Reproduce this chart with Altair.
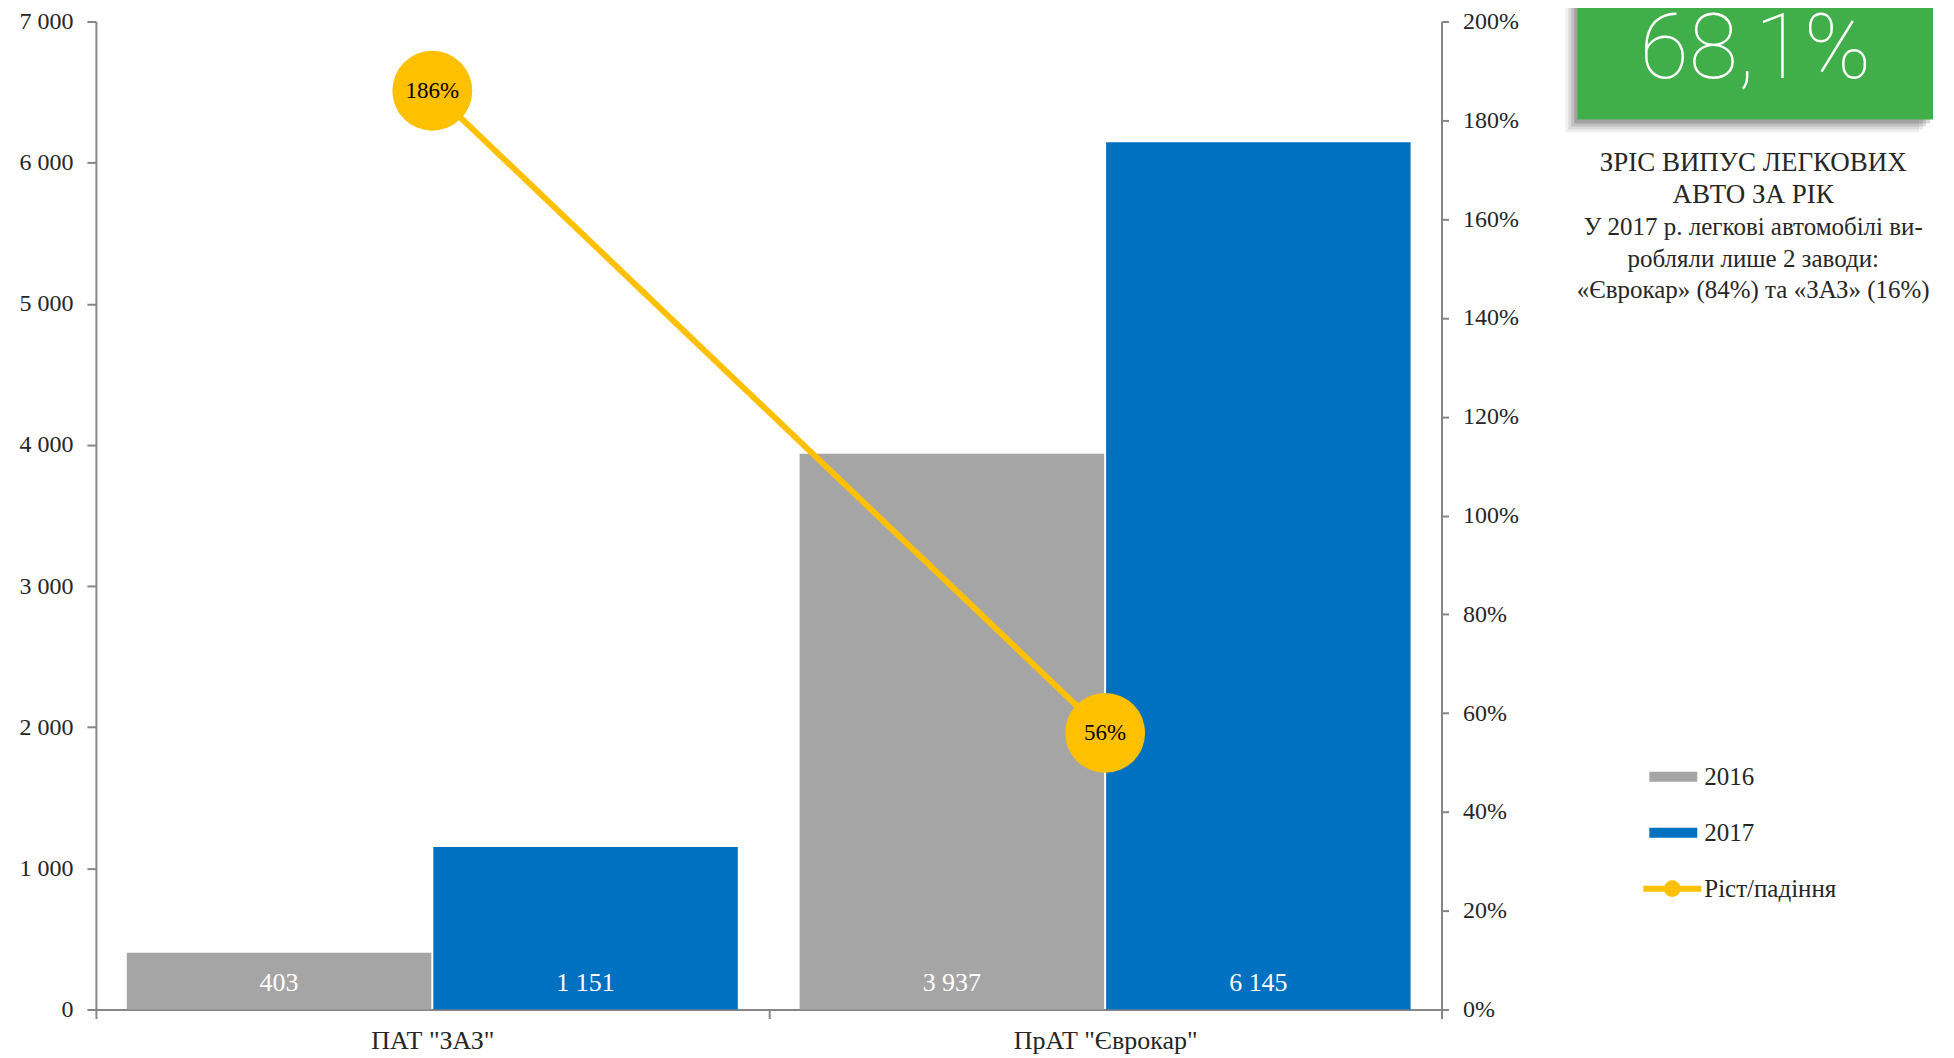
import altair as alt
import pandas as pd

# ---------------- data ----------------
companies = ['ПАТ "ЗАЗ"', 'ПрАТ "Єврокар"']
years = ["2016", "2017"]
output_2016 = [403, 3937]
output_2017 = [1151, 6145]
growth_pct = [186, 56]
growth_name = "Ріст/падіння"

series_domain = years + [growth_name]
series_colors = ["#A5A5A5", "#0070C0", "#FFC000"]

SERIF = "Liberation Serif"
TEXT = "#262626"
AXIS_GREY = "#868686"


def fmt_thousands(v):
    return f"{v:,}".replace(",", " ")


rows = []
for c, a, b in zip(companies, output_2016, output_2017):
    rows.append({"company": c, "year": years[0], "series": years[0], "value": a, "label": fmt_thousands(a)})
    rows.append({"company": c, "year": years[1], "series": years[1], "value": b, "label": fmt_thousands(b)})
bars_df = pd.DataFrame(rows)

growth_df = pd.DataFrame({
    "company": companies,
    "growth": growth_pct,
    "series": [growth_name] * len(companies),
    "label": [f"{g}%" for g in growth_pct],
})

legend_df = pd.DataFrame({"series": series_domain})

total16 = sum(output_2016)
total17 = sum(output_2017)
headline = f"{(total17 / total16 - 1) * 100:.1f}".replace(".", ",") + "%"
share_evro = round(output_2017[1] / total17 * 100)
share_zaz = round(output_2017[0] / total17 * 100)
title_lines = ["ЗРІС ВИПУС ЛЕГКОВИХ", "АВТО ЗА РІК"]
body_lines = [
    "У 2017 р. легкові автомобілі ви-",
    "робляли лише 2 заводи:",
    f"«Єврокар» ({share_evro}%) та «ЗАЗ» ({share_zaz}%)",
]

# ---------------- layout ----------------
W, H = 1347, 989

color_scale = alt.Scale(domain=series_domain, range=series_colors)
color_enc = alt.Color("series:N", scale=color_scale, legend=None)

x_enc = alt.X(
    "company:N",
    sort=companies,
    scale=alt.Scale(domain=companies, paddingInner=0, paddingOuter=0),
    axis=alt.Axis(title=None, labelAngle=0, tickBand="extent", tickSize=9,
                  labelPadding=9, labelFontSize=26, labelLimit=0),
)
xoff = alt.XOffset("year:N", scale=alt.Scale(domain=years, paddingInner=0.0065, paddingOuter=0.1008))

left_axis = alt.Axis(orient="left", title=None, values=list(range(0, 7001, 1000)),
                     labelExpr="replace(format(datum.value, ','), ',', ' ')",
                     tickSize=9, labelPadding=14)
right_axis = alt.Axis(orient="right", title=None, values=list(range(0, 201, 20)),
                      labelExpr="datum.value + '%'", tickSize=7, labelPadding=14)

bars = alt.Chart(bars_df).mark_bar().encode(
    x=x_enc,
    xOffset=xoff,
    y=alt.Y("value:Q", scale=alt.Scale(domain=[0, 7000], nice=False), axis=left_axis),
    color=color_enc,
)
bar_labels = alt.Chart(bars_df).mark_text(
    dy=-27, baseline="middle", align="center", color="white", fontSize=26, font=SERIF
).encode(x=x_enc, xOffset=xoff, y=alt.datum(0), text="label:N")

left = alt.layer(bars, bar_labels)

y_right = alt.Y("growth:Q", scale=alt.Scale(domain=[0, 200], nice=False), axis=right_axis)
line = alt.Chart(growth_df).mark_line(strokeWidth=6).encode(x=x_enc, y=y_right, color=color_enc)
points = alt.Chart(growth_df).mark_circle(size=6400, opacity=1).encode(x=x_enc, y=y_right, color=color_enc)
point_labels = alt.Chart(growth_df).mark_text(
    fontSize=23, font=SERIF, color="#000000", baseline="middle", align="center"
).encode(x=x_enc, y=y_right, text="label:N")

right = alt.layer(line, points, point_labels)

# ---------------- legend (drawn as marks) ----------------
leg_y = alt.Y("series:N", scale=alt.Scale(type="point", domain=series_domain, range=[756, 868], padding=0),
              axis=None)
leg_bars = alt.Chart(legend_df).transform_filter(
    alt.FieldOneOfPredicate(field="series", oneOf=years)
).mark_rule(strokeWidth=10).encode(x=alt.value(1555), x2=alt.value(1603), y=leg_y, color=color_enc)
leg_line = alt.Chart(legend_df).transform_filter(
    alt.FieldEqualPredicate(field="series", equal=growth_name)
).mark_rule(strokeWidth=6).encode(x=alt.value(1549), x2=alt.value(1607), y=leg_y, color=color_enc)
leg_dot = alt.Chart(legend_df).transform_filter(
    alt.FieldEqualPredicate(field="series", equal=growth_name)
).mark_circle(size=280, opacity=1).encode(x=alt.value(1578), y=leg_y, color=color_enc)
leg_text = alt.Chart(legend_df).mark_text(
    align="left", baseline="middle", font=SERIF, fontSize=25, color=TEXT
).encode(x=alt.value(1610), y=leg_y, text="series:N")
legend_layer = alt.layer(leg_bars, leg_line, leg_dot, leg_text)

# ---------------- annotation block (right side) ----------------
one = pd.DataFrame({"k": [0]})
bx0, bx1, by0, by1 = 1483, 1839, -21, 98
shadows = []
for dx0, dx1, dy, op in [(-12, -14, 13, 0.06), (-9, -10, 10, 0.09), (-6, -7, 7, 0.12), (-3, -3, 4, 0.15)]:
    shadows.append(
        alt.Chart(one).mark_rect(color="black", opacity=op).encode(
            x=alt.value(bx0 + dx0), x2=alt.value(bx1 + dx1), y=alt.value(by0), y2=alt.value(by1 + dy))
    )
green = alt.Chart(one).mark_rect(color="#40AE49").encode(
    x=alt.value(bx0), x2=alt.value(bx1), y=alt.value(by0), y2=alt.value(by1))
head_text = alt.Chart(one).mark_text(
    text=headline, font="Roboto", fontWeight=100, fontSize=90, color="white",
    align="center", baseline="alphabetic"
).encode(x=alt.value(1661), y=alt.value(57))
title_text = alt.Chart(one).mark_text(
    text=title_lines, lineHeight=32, font=SERIF, fontSize=27, color=TEXT,
    align="center", baseline="alphabetic"
).encode(x=alt.value(1659), y=alt.value(150))
body_text = alt.Chart(one).mark_text(
    text=body_lines, lineHeight=31.5, font=SERIF, fontSize=25, color=TEXT,
    align="center", baseline="alphabetic"
).encode(x=alt.value(1659), y=alt.value(214))

chart = alt.layer(left, right, legend_layer, *shadows, green, head_text, title_text, body_text).resolve_scale(
    y="independent"
).properties(
    width=W, height=H,
    autosize=alt.AutoSizeParams(type="none"),
    padding={"left": 88, "top": 13, "right": 505, "bottom": 45},
).configure_view(stroke=None).configure_axis(
    grid=False, domainColor=AXIS_GREY, domainWidth=2, tickColor=AXIS_GREY, tickWidth=2,
    labelFont=SERIF, labelFontSize=24, labelColor=TEXT,
)

chart.save("out.html", embed_options={"renderer": "svg", "actions": False})
